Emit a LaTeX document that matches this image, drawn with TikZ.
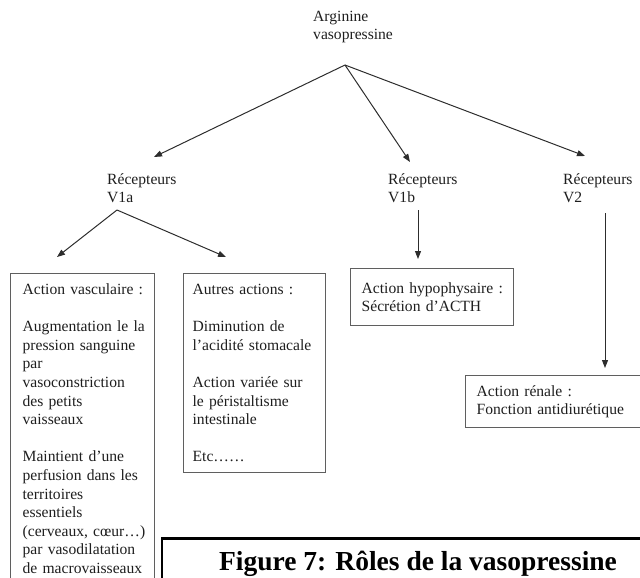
\documentclass[tikz,border=0pt]{standalone}
\usepackage{fontspec}
\setmainfont{Liberation Serif}
\usepackage{xcolor}
\usepackage{tikz}
\usetikzlibrary{arrows.meta,positioning}
\definecolor{inkgray}{RGB}{30,30,30}
\definecolor{linegray}{RGB}{45,45,45}
\definecolor{boxgray}{RGB}{95,95,95}
\newcommand{\boxfont}{\fontsize{15.6}{18.6}\selectfont}
\newcommand{\capfont}{\fontsize{27.5}{30}\selectfont\bfseries}

\begin{document}
\begin{tikzpicture}[
    x=1pt, y=-1pt,
    lbl/.style={font=\boxfont, text=inkgray, align=left, inner sep=0pt, anchor=west},
    actbox/.style={draw=boxgray, line width=1.3pt, font=\boxfont, text=inkgray,
                   align=left, anchor=north west, inner xsep=0pt, inner ysep=0pt,
                   execute at begin node={\leftskip=#1}},
    actbox/.default=11pt,
    conn/.style={->, line width=1pt, draw=linegray},
    >={Triangle[length=8pt,width=6pt]}
]
\useasboundingbox (0,0) rectangle (640,578);
\clip (0,0) rectangle (640,578);

% Labels
\node[lbl] (avp) at (313,27) {Arginine\\vasopressine};
\node[lbl] (v1a) at (107,188) {Récepteurs\\V1a};
\node[lbl] (v1b) at (388,188) {Récepteurs\\V1b};
\node[lbl] (v2)  at (563,188) {Récepteurs\\V2};

% Action boxes
\node[actbox=12pt, text width=144pt, minimum height=310pt] (vasc) at (10,273)
  {Action vasculaire :\\[18.6pt]
   Augmentation le la\\pression sanguine\\par\\vasoconstriction\\des petits\\vaisseaux\\[18.6pt]
   Maintient d’une\\perfusion dans les\\territoires\\essentiels\\(cerveaux, cœur…)\\par vasodilatation\\de macrovaisseaux};
\node[actbox=9pt, text width=142pt, minimum height=199pt] (autres) at (183,273)
  {Autres actions :\\[18.6pt]
   Diminution de\\l’acidité stomacale\\[18.6pt]
   Action variée sur\\le péristaltisme\\intestinale\\[18.6pt]
   Etc……};
\node[actbox, text width=163pt, minimum height=57pt] (hypo) at (350,268)
  {Action hypophysaire :\\Sécrétion d’ACTH};
\node[actbox, text width=200pt, minimum height=52pt] (renal) at (465,375)
  {Action rénale :\\Fonction antidiurétique};

% Caption
\node[draw=black, line width=2.4pt, minimum width=512pt, minimum height=50pt,
      font=\capfont, text=black] (fig7) at (418,563.5) {Figure 7: Rôles de la vasopressine};

% Connectors
\coordinate (hub)  at (345,65);
\coordinate (tipa) at (154,157);
\coordinate (tipb) at (410,162);
\coordinate (tipc) at (585,156);
\draw[conn] (hub) -- (tipa);
\draw[conn] (hub) -- (tipb);
\draw[conn] (hub) -- (tipc);

\coordinate (huba)  at (117,210);
\coordinate (tipva) at (57,257);
\coordinate (tipau) at (226,257);
\draw[conn] (huba) -- (tipva);
\draw[conn] (huba) -- (tipau);

\coordinate (srcb)  at (418,210);
\coordinate (tiphy) at (418,259);
\draw[conn] (srcb) -- (tiphy);

\coordinate (srcc)  at (605,213);
\coordinate (tipre) at (605,368);
\draw[conn] (srcc) -- (tipre);

\end{tikzpicture}
\end{document}
